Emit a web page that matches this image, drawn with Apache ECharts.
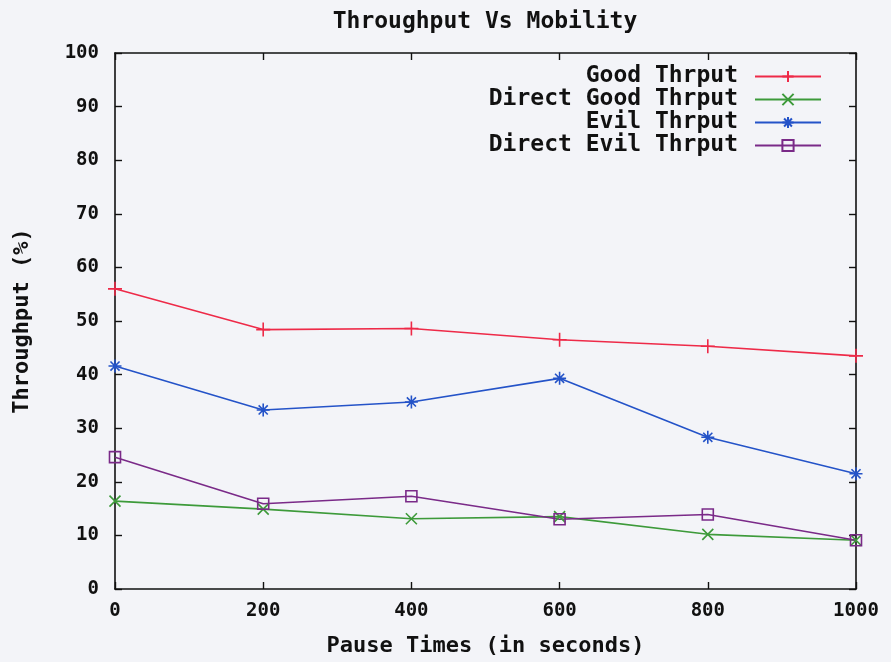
<!DOCTYPE html>
<html>
<head>
<meta charset="utf-8">
<script src="https://cdn.jsdelivr.net/npm/echarts@6/dist/echarts.min.js"></script>
<style>
  html, body { margin: 0; padding: 0; background: #f3f4f8; }
  #chart { width: 891px; height: 662px; }
</style>
</head>
<body>
<div id="chart"></div>
<script>
// Pause times (s) and throughput percentages per routing variant
const pauseTimes = [0, 200, 400, 600, 800, 1000];
const goodThrput = [56.0, 48.4, 48.6, 46.5, 45.3, 43.5];
const directGoodThrput = [16.4, 14.9, 13.1, 13.5, 10.2, 9.1];
const evilThrput = [41.6, 33.4, 34.9, 39.3, 28.3, 21.5];
const directEvilThrput = [24.6, 15.9, 17.3, 13.0, 13.9, 9.1];
const yTicks = [0, 10, 20, 30, 40, 50, 60, 70, 80, 90, 100];

const FONT = '"DejaVu Sans Mono", "Liberation Mono", monospace';
const INK = '#111';

// stroke-only marker shapes (plus, cross, asterisk, open box)
const SYM_PLUS = 'path://M5,0L5,10M0,5L10,5';
const SYM_CROSS = 'path://M0,0L10,10M0,10L10,0';
const SYM_STAR = 'path://M5,0L5,10M0,5L10,5M1.5,1.5L8.5,8.5M1.5,8.5L8.5,1.5';
const SYM_BOX = 'path://M0,0L10,0L10,10L0,10Z';

function pairs(vals) {
  return pauseTimes.map((t, i) => [t, vals[i]]);
}

function makeSeries(name, vals, color, symbol, size) {
  return {
    name: name,
    type: 'line',
    xAxisIndex: 0,
    yAxisIndex: 0,
    data: pairs(vals),
    symbol: symbol,
    symbolSize: size,
    showAllSymbol: true,
    lineStyle: { color: color, width: 1.6 },
    itemStyle: { color: 'none', borderColor: color, borderWidth: 1.6 },
    emphasis: { disabled: true },
    animation: false
  };
}

const tickStyle = { show: true, inside: true, length: 7, lineStyle: { color: INK, width: 1.4 } };
const lineStyleAxis = { show: true, onZero: false, lineStyle: { color: INK, width: 1.6 } };
const labelFont = { fontFamily: FONT, fontSize: 19, fontWeight: 'bold', color: INK };
const nameFont = { fontFamily: FONT, fontSize: 22, fontWeight: 'bold', color: INK };
const plain = v => String(v);

const chart = echarts.init(document.getElementById('chart'));
chart.setOption({
  backgroundColor: '#f3f4f8',
  title: {
    text: 'Throughput Vs Mobility',
    left: 480, top: 6, textAlign: 'center',
    textStyle: { fontFamily: FONT, fontSize: 23, fontWeight: 'bold', color: INK }
  },
  legend: {
    orient: 'vertical',
    right: 64, top: 60,
    align: 'right',
    itemWidth: 66, itemHeight: 14, itemGap: 0,
    textStyle: { fontFamily: FONT, fontSize: 23, fontWeight: 'bold', color: INK,
                 lineHeight: 23, padding: [0, 12, 0, 0] },
    data: ['Good Thrput', 'Direct Good Thrput', 'Evil Thrput', 'Direct Evil Thrput']
  },
  grid: { left: 115, right: 35, top: 53, bottom: 72 },
  xAxis: [{
    type: 'value', min: 0, max: 1000, interval: 200,
    axisLine: lineStyleAxis,
    axisTick: tickStyle,
    axisLabel: Object.assign({ margin: 13, formatter: plain }, labelFont),
    splitLine: { show: false },
    name: 'Pause Times (in seconds)', nameLocation: 'middle', nameGap: 46,
    nameTextStyle: nameFont
  }, {
    type: 'value', position: 'top', min: 0, max: 1000, interval: 200,
    axisLine: lineStyleAxis,
    axisTick: tickStyle,
    axisLabel: { show: false }, splitLine: { show: false }
  }],
  yAxis: [{
    type: 'value', min: yTicks[0], max: yTicks[yTicks.length - 1], interval: 10,
    axisLine: lineStyleAxis,
    axisTick: tickStyle,
    axisLabel: Object.assign({ margin: 16, formatter: plain }, labelFont),
    splitLine: { show: false },
    name: 'Throughput (%)', nameLocation: 'middle', nameGap: 82, nameRotate: 90,
    nameTextStyle: nameFont
  }, {
    type: 'value', position: 'right', min: 0, max: 100, interval: 10,
    axisLine: lineStyleAxis,
    axisTick: tickStyle,
    axisLabel: { show: false }, splitLine: { show: false }
  }],
  series: [
    makeSeries('Good Thrput', goodThrput, '#ee2a48', SYM_PLUS, 14),
    makeSeries('Direct Good Thrput', directGoodThrput, '#3d9a3a', SYM_CROSS, 11),
    makeSeries('Evil Thrput', evilThrput, '#2453c8', SYM_STAR, 13),
    makeSeries('Direct Evil Thrput', directEvilThrput, '#7a2a88', SYM_BOX, 11)
  ]
});
</script>
</body>
</html>
